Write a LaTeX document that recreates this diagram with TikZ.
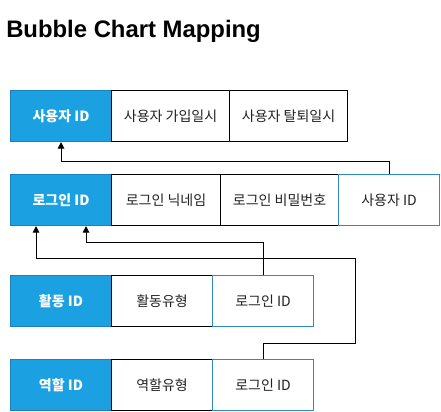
\documentclass[tikz,border=0pt]{standalone}
\usepackage{fontspec}
\setmainfont{Liberation Sans}
\newfontfamily\kr{Noto Sans CJK KR}
\usetikzlibrary{arrows.meta}
\definecolor{pkfill}{HTML}{1BA1E2}
\definecolor{pkline}{HTML}{1B7FC0}
\definecolor{fkline}{HTML}{2F8AC4}
\definecolor{txt}{HTML}{222222}
\tikzset{
  cell/.style={draw=black, line width=0.8pt, fill=white, anchor=north west,
    minimum height=38.25pt, inner sep=0pt, font=\kr\fontsize{10.5}{12}\selectfont, text=txt},
  pkcell/.style={cell, draw=pkline, fill=pkfill, text=white, font=\kr\bfseries\fontsize{10.5}{12}\selectfont},
  fkcell/.style={cell, draw=fkline},
  conn/.style={draw=black, line width=0.75pt, -{Triangle[length=5pt,width=5pt]}},
}
\begin{document}
\begin{tikzpicture}[x=0.75pt,y=-0.75pt]
\useasboundingbox (0,0) rectangle (441,411);
\node[anchor=base west, font=\bfseries\fontsize{17.9}{20}\selectfont, inner sep=0pt] (title) at (6,37) {Bubble Chart Mapping};
% row 1
\node[pkcell, minimum width=75.75pt] (uid) at (10,90) {사용자 ID};
\node[cell, minimum width=88.5pt] (ujoin) at (111,90) {사용자 가입일시};
\node[cell, minimum width=88.5pt] (uleave) at (229,90) {사용자 탈퇴일시};
% row 2
\node[pkcell, minimum width=75.75pt] (lid) at (10,174) {로그인 ID};
\node[cell, minimum width=81.75pt] (lnick) at (111,174) {로그인 닉네임};
\node[cell, minimum width=88.5pt] (lpw) at (220,174) {로그인 비밀번호};
\node[fkcell, minimum width=75.75pt] (lfk) at (338,174) {사용자 ID};
% row 3
\node[pkcell, minimum width=75.75pt] (aid) at (10,275) {활동 ID};
\node[cell, minimum width=75.75pt] (atype) at (111,275) {활동유형};
\node[fkcell, minimum width=75.75pt] (afk) at (212,275) {로그인 ID};
% row 4
\node[pkcell, minimum width=75.75pt] (rid) at (10,359) {역할 ID};
\node[cell, minimum width=75.75pt] (rtype) at (111,359) {역할유형};
\node[fkcell, minimum width=75.75pt] (rfk) at (212,359) {로그인 ID};
% connectors
\draw[conn] (lfk.north) -- ++(0,-13) -| (uid.south);
\draw[conn] (afk.north) -- ++(0,-33) -| ([xshift=18.75pt]lid.south);
\coordinate (bend) at (355,258);
\draw[conn] (rfk.north) -- ++(0,-16) -| (bend) -| ([xshift=-18.75pt]lid.south);
\end{tikzpicture}
\end{document}
